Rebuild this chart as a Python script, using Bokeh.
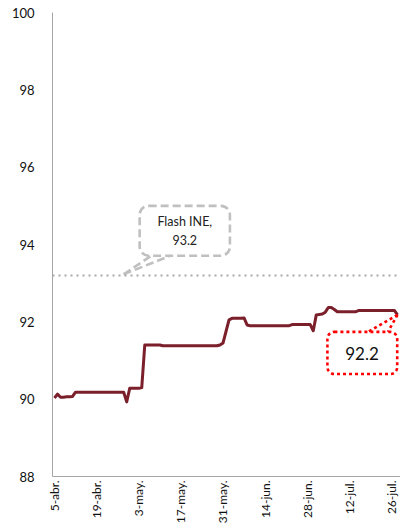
import math
from bokeh.plotting import figure
from bokeh.models import BoxAnnotation, FixedTicker, Range1d, Span
from bokeh.core.properties import value
from bokeh.embed import file_html
from bokeh.resources import INLINE

# ---- data ----
days = list(range(115))
index_values = [
    90.03, 90.13, 90.05, 90.05, 90.06, 90.06, 90.07, 90.18, 90.18, 90.18,
    90.18, 90.18, 90.18, 90.18, 90.18, 90.18, 90.18, 90.18, 90.18, 90.18,
    90.18, 90.18, 90.18, 90.18, 89.93, 90.28, 90.28, 90.28, 90.28, 90.30,
    91.40, 91.40, 91.40, 91.40, 91.40, 91.40, 91.38, 91.38, 91.38, 91.38,
    91.38, 91.38, 91.38, 91.38, 91.38, 91.38, 91.38, 91.38, 91.38, 91.38,
    91.38, 91.38, 91.38, 91.38, 91.38, 91.40, 91.45, 91.75, 92.05, 92.09,
    92.09, 92.09, 92.09, 92.10, 91.92, 91.90, 91.90, 91.90, 91.90, 91.90,
    91.90, 91.90, 91.90, 91.90, 91.90, 91.90, 91.90, 91.90, 91.90, 91.93,
    91.93, 91.93, 91.93, 91.93, 91.93, 91.93, 91.77, 92.18, 92.19, 92.20,
    92.25, 92.37, 92.37, 92.32, 92.26, 92.26, 92.26, 92.26, 92.26, 92.26,
    92.26, 92.29, 92.29, 92.29, 92.29, 92.29, 92.29, 92.29, 92.29, 92.29,
    92.29, 92.29, 92.29, 92.29, 92.18,
]
tick_days = [0, 14, 28, 42, 56, 70, 84, 98, 112]
tick_labels = ["5-abr.", "19-abr.", "3-may.", "17-may.", "31-may.",
               "14-jun.", "28-jun.", "12-jul.", "26-jul."]
y_ticks = [88, 90, 92, 94, 96, 98, 100]
flash_ine = 93.2
flash_text = "Flash INE,\n93.2"
last_text = "92.2"

FONT = "Lato"
GREY = "#a6a6a6"

p = figure(width=400, height=526, output_backend="svg", toolbar_location=None,
           x_range=Range1d(-0.66, 114.99), y_range=Range1d(88, 100),
           min_border_left=52, min_border_right=0, min_border_top=12,
           min_border_bottom=0)
p.outline_line_color = None
p.grid.visible = False
p.background_fill_color = "white"
p.border_fill_color = "white"

# axes
p.yaxis.ticker = FixedTicker(ticks=y_ticks)
p.yaxis.axis_line_color = GREY
p.yaxis.major_tick_line_color = None
p.yaxis.minor_tick_line_color = None
p.yaxis.major_label_standoff = 12
p.yaxis.major_label_text_font = FONT
p.yaxis.major_label_text_font_size = "13px"
p.yaxis.major_label_text_color = "#111111"

p.xaxis.ticker = FixedTicker(ticks=tick_days)
p.xaxis.major_label_overrides = {d: l for d, l in zip(tick_days, tick_labels)}
p.xaxis.major_label_orientation = math.pi / 2
p.xaxis.axis_line_color = GREY
p.xaxis.major_tick_line_color = None
p.xaxis.minor_tick_line_color = None
p.xaxis.major_tick_out = 0
p.xaxis.major_tick_in = 0
p.xaxis.major_label_standoff = 4
p.xaxis.major_label_text_font = FONT
p.xaxis.major_label_text_font_size = "12px"
p.xaxis.major_label_text_color = "#111111"

# flash reference line
p.add_layout(Span(location=flash_ine, dimension="width", line_color="#a9a9a9",
                  line_width=2, line_dash="2 4"))

# main series
p.line(days, index_values, line_color="#7B1F2B", line_width=3, line_join="round")

# ---- Flash INE callout (offsets relative to the flash level) ----
fx = 23.0
fbox = BoxAnnotation(left=fx + 5.3, right=fx + 35.3,
                     bottom=flash_ine + 0.51, top=flash_ine + 1.80,
                     fill_alpha=0, line_alpha=1.0, line_color="#c0c0c0",
                     line_width=2.6, line_dash="8 4", border_radius=9)
p.add_layout(fbox)
p.segment(x0=[fx, fx], y0=[flash_ine + 0.03, flash_ine + 0.03],
          x1=[fx + 9.0, fx + 15.5], y1=[flash_ine + 0.50, flash_ine + 0.51],
          line_color="#c0c0c0", line_width=2.6, line_dash="8 4")
p.text(x=[fx + 20.3], y=[flash_ine + 1.15], text=[flash_text],
       text_font=value(FONT), text_font_size="12.5px", text_color="#222222",
       text_align="center", text_baseline="middle", text_line_height=1.3)

# ---- last value callout (offsets relative to last point) ----
lx = days[-1]
ly = index_values[-1]
rbox = BoxAnnotation(left=lx - 23.3, right=lx - 0.1,
                     bottom=ly - 1.53, top=ly - 0.44,
                     fill_alpha=0, line_alpha=1.0, line_color="#ff0000",
                     line_width=2.6, line_dash="3 3", border_radius=7)
p.add_layout(rbox)
p.segment(x0=[lx, lx], y0=[ly, ly], x1=[lx - 9.8, lx - 3.2],
          y1=[ly - 0.44, ly - 0.44],
          line_color="#ff0000", line_width=2.6, line_dash="3 3")
p.text(x=[lx - 11.8], y=[ly - 0.99], text=[last_text],
       text_font=value(FONT), text_font_size="17px", text_color="#111111",
       text_align="center", text_baseline="middle")

open("out.html", "w").write(file_html(p, INLINE))
